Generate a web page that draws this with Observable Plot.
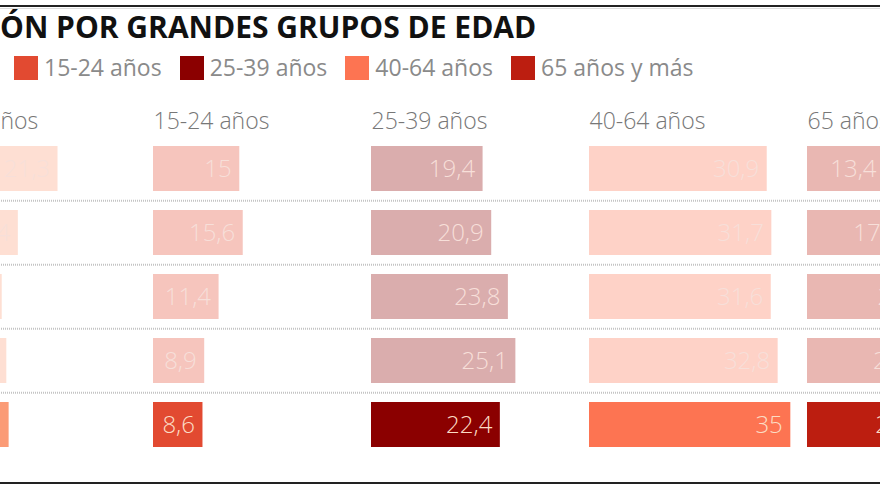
<!DOCTYPE html>
<html>
<head>
<meta charset="utf-8">
<script src="https://cdn.jsdelivr.net/npm/d3@7"></script>
<script src="https://cdn.jsdelivr.net/npm/@observablehq/plot@0.6"></script>
<style>
  html, body { margin: 0; padding: 0; background: #fff; }
  #wrap { position: relative; width: 880px; height: 495px; overflow: hidden; background: #fff; font-family: "Open Sans", sans-serif; }
  .rule-top { position: absolute; left: 0; top: 5px; width: 880px; height: 2px; background: #222; }
  .rule-top2 { position: absolute; left: 0; top: 8px; width: 880px; height: 1px; background: #ddd; }
  .rule-bot { position: absolute; left: 0; top: 482px; width: 880px; height: 2px; background: #222; }
  #title { position: absolute; left: 0; top: 12px; font-size: 30px; line-height: 30px; font-weight: 700; color: #111; white-space: nowrap; }
  #legend { position: absolute; left: 14px; top: 55px; height: 25px; display: flex; align-items: center; white-space: nowrap; }
  .item { display: flex; align-items: center; margin-right: 18px; }
  .sw { width: 24px; height: 24px; margin-right: 6px; }
  .lt { font-size: 23px; color: #8a8a8a; line-height: 25px; }
  #chart { position: absolute; left: -65px; top: 95px; width: 1090px; }
  #chart svg { max-width: none !important; width: 1090px; height: 375px; }
</style>
</head>
<body>
<div id="wrap">
  <div class="rule-top"></div>
  <div class="rule-top2"></div>
  <div id="title">ÓN POR GRANDES GRUPOS DE EDAD</div>
  <div id="legend"></div>
  <div id="chart"></div>
  <div class="rule-bot"></div>
</div>
<script>
// Data
const grupos = ["0-14 años", "15-24 años", "25-39 años", "40-64 años", "65 años y más"];
const filas = ["Fila 1", "Fila 2", "Fila 3", "Fila 4", "Fila 5"];
const v0_14 = [21.3, 14.4, 11.6, 12.4, 12.8];
const v15_24 = [15, 15.6, 11.4, 8.9, 8.6];
const v25_39 = [19.4, 20.9, 23.8, 25.1, 22.4];
const v40_64 = [30.9, 31.7, 31.6, 32.8, 35];
const v65 = [13.4, 17.4, 21.6, 20.8, 21.2];
const colores = ["#fb9b76", "#e24a31", "#8b0000", "#fd7452", "#bc1e10"];
const destacada = "Fila 5";

const series = [v0_14, v15_24, v25_39, v40_64, v65];
const tabla = [];
grupos.forEach((g, i) => filas.forEach((f, j) => tabla.push({grupo: g, fila: f, valor: series[i][j]})));
const fmt = v => String(v).replace(".", ",");

// Legend (HTML)
const legend = document.getElementById("legend");
grupos.slice(1).forEach((g) => {
  const it = document.createElement("div"); it.className = "item";
  const sw = document.createElement("div"); sw.className = "sw"; sw.style.background = colores[grupos.indexOf(g)];
  const t = document.createElement("span"); t.className = "lt"; t.textContent = g;
  it.appendChild(sw); it.appendChild(t); legend.appendChild(it);
});

const muted = tabla.filter(d => d.fila !== destacada);
const hi = tabla.filter(d => d.fila === destacada);

const chart = Plot.plot({
  width: 1090,
  height: 375,
  marginTop: 40,
  marginBottom: 11.5,
  marginLeft: 0,
  marginRight: 0,
  fx: {domain: grupos, padding: 0, axis: null},
  x: {domain: [0, 37.9], axis: null},
  y: {domain: filas, paddingInner: 0.3, paddingOuter: 0.15, axis: null},
  color: {domain: grupos, range: colores},
  style: {fontFamily: "Open Sans, sans-serif", background: "transparent", maxWidth: "none"},
  marks: [
    Plot.ruleY(filas.slice(1), {y: d => d, dy: -32.35, stroke: "#c4c4c4", strokeWidth: 2, strokeDasharray: "1,1"}),
    Plot.barX(muted, {x: "valor", y: "fila", fx: "grupo", fill: "grupo", fillOpacity: 0.32}),
    Plot.barX(hi, {x: "valor", y: "fila", fx: "grupo", fill: "grupo"}),
    Plot.text(muted, {x: "valor", y: "fila", fx: "grupo", text: d => fmt(d.valor), textAnchor: "end", dx: -8, fill: "#f7dfd9", fontSize: 24, fontWeight: 300}),
    Plot.text(hi, {x: "valor", y: "fila", fx: "grupo", text: d => fmt(d.valor), textAnchor: "end", dx: -8, fill: "#fcdcc4", fontSize: 24, fontWeight: 300}),
    Plot.text(grupos, {fx: d => d, text: d => d, frameAnchor: "top-left", dy: -14, lineAnchor: "middle", fill: "#777", fontSize: 23, fontWeight: 300})
  ]
});
document.getElementById("chart").appendChild(chart);
</script>
</body>
</html>
